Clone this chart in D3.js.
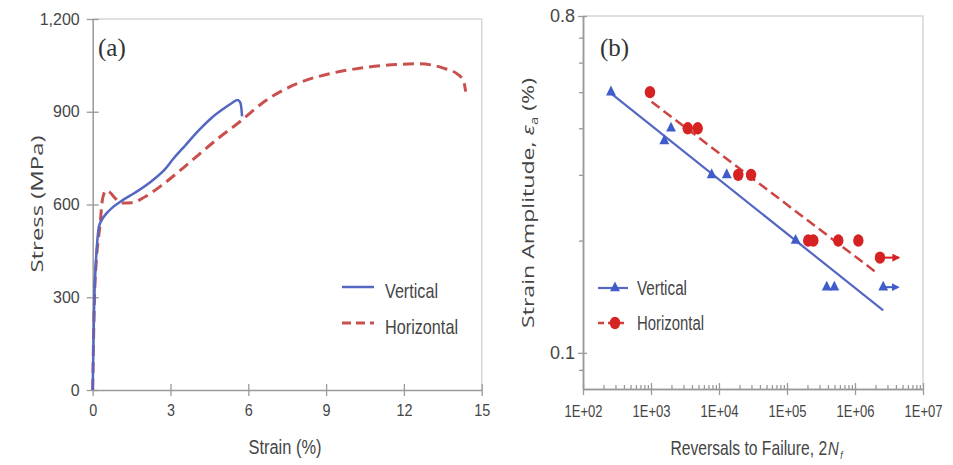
<!DOCTYPE html>
<html>
<head>
<meta charset="utf-8">
<script src="https://cdn.jsdelivr.net/npm/d3@7"></script>
<style>
  body { margin: 0; background: #fff; }
  svg { display: block; }
  .tick text { font-family: "Liberation Sans", Arial, sans-serif; fill: #454545; }
  .narrow { font-family: "Liberation Sans", Arial, sans-serif; fill: #454545; }
  .wide { font-family: "Open Sans", sans-serif; fill: #454545; }
</style>
</head>
<body>
<svg id="chart"></svg>
<script>
// (a) stress-strain curves
const vStrain = [0, 0.025, 0.06, 0.115, 0.18, 0.24, 0.35, 0.54, 0.8, 1.12, 1.63, 2.28, 2.8, 3.11, 3.56, 4.07, 4.58, 5.1, 5.4, 5.58, 5.7, 5.74, 5.76];
const vStress = [0, 130, 290, 400, 485, 528, 550, 572, 593, 612, 638, 676, 715, 748, 790, 838, 880, 913, 930, 938, 928, 905, 885];
const hStrain = [0, 0.03, 0.07, 0.14, 0.22, 0.29, 0.35, 0.42, 0.52, 0.65, 0.87, 1.12, 1.51, 2.02, 2.66, 3.3, 4.07, 4.84, 5.74, 6.57, 7.85, 9.13, 10.42, 11.7, 12.6, 13.49, 14.13, 14.33, 14.38];
const hStress = [0, 150, 300, 420, 490, 540, 600, 632, 645, 640, 620, 605, 606, 625, 662, 705, 760, 814, 872, 930, 990, 1023, 1042, 1053, 1055, 1042, 1018, 990, 965];
const aXTicks = [0, 3, 6, 9, 12, 15];
const aYTicks = [0, 300, 600, 900, 1200];

// (b) strain-life data
const vN = [258, 1570, 1970, 7800, 13000, 134000, 384000, 497000, 2600000];
const vAmp = [0.5, 0.37, 0.4, 0.3, 0.3, 0.2, 0.15, 0.15, 0.15];
const hN = [966, 3470, 4860, 19200, 29600, 205000, 244000, 568000, 1120000, 2330000];
const hAmp = [0.5, 0.4, 0.4, 0.3, 0.3, 0.2, 0.2, 0.2, 0.2, 0.18];
const vFitN = [258, 2600000];
const vFitAmp = [0.496, 0.13];
const hFitN = [1020, 2080000];
const hFitAmp = [0.471, 0.164];
const vRunN = [2600000], vRunAmp = [0.15], vRunTo = [4300000];
const hRunN = [2330000], hRunAmp = [0.18], hRunTo = [4400000];
const bXTicks = [1e2, 1e3, 1e4, 1e5, 1e6, 1e7];
const bXLabels = ["1E+02", "1E+03", "1E+04", "1E+05", "1E+06", "1E+07"];
const bYTicks = [0.1, 0.8];
const bYLabels = ["0.1", "0.8"];
const bYMinor = [0.09, 0.2, 0.3, 0.4, 0.5, 0.6, 0.7];

const blue = "#5467c2";
const red = "#c8504f";
const axisColor = "#9a9a9a";
const frameColor = "#d6d6d6";

const svg = d3.select("#chart").attr("width", 953).attr("height", 465);
svg.append("rect").attr("width", 953).attr("height", 465).attr("fill", "#fff");

const defs = svg.append("defs");
["b", "r"].forEach((k) => {
  defs.append("marker")
    .attr("id", "arrow-" + k)
    .attr("viewBox", "0 0 10 10")
    .attr("refX", 8).attr("refY", 5)
    .attr("markerWidth", 8).attr("markerHeight", 8)
    .attr("markerUnits", "userSpaceOnUse")
    .attr("orient", "auto")
    .append("path")
    .attr("d", "M0,0 L10,5 L0,10 Z")
    .attr("fill", k === "b" ? "#3f5cc8" : "#d62222");
});

function styleAxis(g) {
  g.select(".domain").attr("stroke", axisColor).attr("stroke-width", 1.5);
  g.selectAll(".tick line").attr("stroke", axisColor).attr("stroke-width", 1.3);
}

// squeeze a text to the width seen in the picture
function squeeze(sel, len) {
  sel.attr("textLength", len).attr("lengthAdjust", "spacingAndGlyphs");
}

// ---------- panel (a) ----------
const xA = d3.scaleLinear().domain([0, 15]).range([92.7, 481.7]);
const yA = d3.scaleLinear().domain([0, 1200]).range([390, 19]);

svg.append("path")
  .attr("d", `M${xA(0)},${yA(1200)}H${xA(15)}V${yA(0)}`)
  .attr("fill", "none").attr("stroke", frameColor).attr("stroke-width", 1.5);

svg.append("g")
  .attr("transform", `translate(0,${yA(0)})`)
  .call(d3.axisBottom(xA).tickValues(aXTicks).tickSize(6).tickSizeOuter(0).tickPadding(8))
  .call(styleAxis)
  .call((g) => g.selectAll(".tick line").attr("y1", -6))
  .call((g) => g.selectAll(".tick text").attr("font-size", 17)
    .attr("textLength", (d) => (d >= 10 ? 16 : 8)).attr("lengthAdjust", "spacingAndGlyphs"));

svg.append("g")
  .attr("transform", `translate(${xA(0)},0)`)
  .call(d3.axisLeft(yA).tickValues(aYTicks).tickSize(6).tickSizeOuter(0).tickPadding(7).tickFormat(d3.format(",")))
  .call(styleAxis)
  .call((g) => g.selectAll(".tick line").attr("x1", 6))
  .call((g) => g.selectAll(".tick text").attr("font-size", 16));

const lineA = d3.line().curve(d3.curveMonotoneX).x((d) => xA(d[0])).y((d) => yA(d[1]));

svg.append("path")
  .datum(d3.zip(hStrain, hStress))
  .attr("d", lineA)
  .attr("fill", "none").attr("stroke", red).attr("stroke-width", 3)
  .attr("stroke-dasharray", "11,6");

svg.append("path")
  .datum(d3.zip(vStrain, vStress))
  .attr("d", lineA)
  .attr("fill", "none").attr("stroke", blue).attr("stroke-width", 2.5);

svg.append("text").attr("x", 98).attr("y", 56)
  .attr("font-family", "Liberation Serif, serif").attr("font-size", 25).attr("fill", "#333")
  .text("(a)");

svg.append("text").attr("class", "wide")
  .attr("transform", "translate(43,204) rotate(-90)")
  .attr("text-anchor", "middle").attr("font-size", 17)
  .call(squeeze, 137)
  .text("Stress (MPa)");

svg.append("text").attr("class", "narrow")
  .attr("x", 285).attr("y", 454).attr("text-anchor", "middle").attr("font-size", 20)
  .call(squeeze, 73)
  .text("Strain (%)");

// legend (a)
const legA = [
  { name: "Vertical", color: blue, dash: null, w: 2.5, y: 287, len: 53 },
  { name: "Horizontal", color: red, dash: "9,5", w: 3, y: 323, len: 73 },
];
legA.forEach((d) => {
  svg.append("line").attr("x1", 342).attr("x2", 374).attr("y1", d.y).attr("y2", d.y)
    .attr("stroke", d.color).attr("stroke-width", d.w).attr("stroke-dasharray", d.dash);
  svg.append("text").attr("class", "narrow").attr("x", 385).attr("y", d.y + 11)
    .attr("font-size", 21).call(squeeze, d.len).text(d.name);
});

// ---------- panel (b) ----------
const xB = d3.scaleLog().domain([1e2, 1e7]).range([583, 923]);
const yB = d3.scaleLog().domain([0.08, 0.8]).range([389, 16]);

svg.append("path")
  .attr("d", `M${xB(1e2)},${yB(0.8)}H${xB(1e7)}V${yB(0.08)}`)
  .attr("fill", "none").attr("stroke", frameColor).attr("stroke-width", 1.5);

const bXMinor = [];
for (let e = 2; e < 7; e++) for (let m = 2; m < 10; m++) bXMinor.push(m * Math.pow(10, e));

svg.append("g")
  .attr("transform", `translate(0,${yB(0.08)})`)
  .call(d3.axisBottom(xB).tickValues(bXMinor).tickSize(-4).tickSizeOuter(0).tickFormat(""))
  .call(styleAxis);

svg.append("g")
  .attr("transform", `translate(0,${yB(0.08)})`)
  .call(d3.axisBottom(xB).tickValues(bXTicks).tickSize(6).tickSizeOuter(0).tickPadding(11)
    .tickFormat((d, i) => bXLabels[i]))
  .call(styleAxis)
  .call((g) => g.selectAll(".tick line").attr("y1", -6))
  .call((g) => g.selectAll(".tick text").attr("font-size", 16).call(squeeze, 38));

svg.append("g")
  .attr("transform", `translate(${xB(1e2)},0)`)
  .call(d3.axisLeft(yB).tickValues(bYMinor).tickSize(4).tickSizeOuter(0).tickFormat(""))
  .call(styleAxis);

svg.append("g")
  .attr("transform", `translate(${xB(1e2)},0)`)
  .call(d3.axisLeft(yB).tickValues(bYTicks).tickSize(5).tickSizeOuter(0).tickPadding(3)
    .tickFormat((d, i) => bYLabels[i]))
  .call(styleAxis)
  .call((g) => g.selectAll(".tick line").attr("x1", 4))
  .call((g) => g.selectAll(".tick text").attr("font-size", 18).call(squeeze, 25));

const lineB = d3.line().x((d) => xB(d[0])).y((d) => yB(d[1]));

svg.append("path").datum(d3.zip(vFitN, vFitAmp)).attr("d", lineB)
  .attr("fill", "none").attr("stroke", blue).attr("stroke-width", 2.2);
svg.append("path").datum(d3.zip(hFitN, hFitAmp)).attr("d", lineB)
  .attr("fill", "none").attr("stroke", "#cc4444").attr("stroke-width", 2.5)
  .attr("stroke-dasharray", "10,5");

// run-outs
svg.selectAll(".run-v").data(d3.zip(vRunN, vRunAmp, vRunTo)).enter().append("line")
  .attr("x1", (d) => xB(d[0])).attr("x2", (d) => xB(d[2]))
  .attr("y1", (d) => yB(d[1])).attr("y2", (d) => yB(d[1]))
  .attr("stroke", "#3f5cc8").attr("stroke-width", 2).attr("marker-end", "url(#arrow-b)");
svg.selectAll(".run-h").data(d3.zip(hRunN, hRunAmp, hRunTo)).enter().append("line")
  .attr("x1", (d) => xB(d[0])).attr("x2", (d) => xB(d[2]))
  .attr("y1", (d) => yB(d[1])).attr("y2", (d) => yB(d[1]))
  .attr("stroke", "#d62222").attr("stroke-width", 2).attr("marker-end", "url(#arrow-r)");

const tri = d3.symbol(d3.symbolTriangle).size(42);
svg.selectAll(".tri").data(d3.zip(vN, vAmp)).enter().append("path")
  .attr("d", tri)
  .attr("transform", (d) => `translate(${xB(d[0])},${yB(d[1])}) scale(1,1.15)`)
  .attr("fill", "#3f5cc8");

svg.selectAll(".dot").data(d3.zip(hN, hAmp)).enter().append("ellipse")
  .attr("cx", (d) => xB(d[0])).attr("cy", (d) => yB(d[1]))
  .attr("rx", 5.2).attr("ry", 6.2)
  .attr("fill", "#d62222");

svg.append("text").attr("x", 600).attr("y", 56)
  .attr("font-family", "Liberation Serif, serif").attr("font-size", 25).attr("fill", "#333")
  .text("(b)");

const yTitle = svg.append("text").attr("class", "wide")
  .attr("transform", "translate(534,203) rotate(-90)")
  .attr("text-anchor", "middle").attr("font-size", 17)
  .call(squeeze, 250);
yTitle.append("tspan").text("Strain Amplitude, ");
yTitle.append("tspan").attr("font-style", "italic").text("ε");
yTitle.append("tspan").attr("font-size", 11).attr("dy", 4).text("a");
yTitle.append("tspan").attr("dy", -4).text(" (%)");

// x title of (b): three pieces laid out by their real widths, group squeezed sideways
const xTitle = svg.append("g");
const tMain = xTitle.append("text").attr("class", "narrow")
  .attr("x", 0).attr("y", 0).attr("font-size", 20).text("Reversals to Failure, 2");
const wMain = tMain.node().getComputedTextLength();
const tN = xTitle.append("text").attr("class", "narrow")
  .attr("x", wMain + 1).attr("y", 0).attr("font-size", 19).attr("font-style", "italic").text("N");
const wN = tN.node().getComputedTextLength();
xTitle.append("text").attr("class", "narrow")
  .attr("x", wMain + wN + 3).attr("y", 4).attr("font-size", 11).attr("font-style", "italic").text("f");
const wAll = wMain + wN + 7;
const sx = 173 / wAll;
xTitle.attr("transform", `translate(${757 - 173 / 2},455) scale(${sx},1)`);

// legend (b)
svg.append("line").attr("x1", 598).attr("x2", 628).attr("y1", 288).attr("y2", 288)
  .attr("stroke", blue).attr("stroke-width", 2.2);
svg.append("path").attr("d", tri)
  .attr("transform", "translate(615,288) scale(1,1.15)").attr("fill", "#3f5cc8");
svg.append("text").attr("class", "narrow").attr("x", 637).attr("y", 295)
  .attr("font-size", 20).call(squeeze, 50).text("Vertical");

svg.append("line").attr("x1", 598).attr("x2", 628).attr("y1", 323).attr("y2", 323)
  .attr("stroke", "#cc4444").attr("stroke-width", 2.5).attr("stroke-dasharray", "6,4");
svg.append("ellipse").attr("cx", 615).attr("cy", 323).attr("rx", 5.2).attr("ry", 6.2)
  .attr("fill", "#d62222");
svg.append("text").attr("class", "narrow").attr("x", 637).attr("y", 330)
  .attr("font-size", 20).call(squeeze, 67).text("Horizontal");
</script>
</body>
</html>
